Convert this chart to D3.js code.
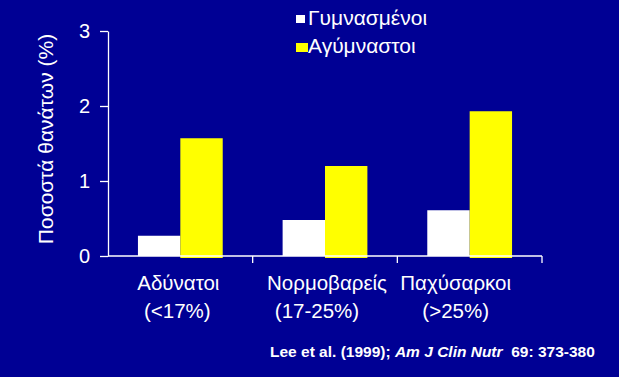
<!DOCTYPE html>
<html>
<head>
<meta charset="utf-8">
<script src="https://cdn.jsdelivr.net/npm/d3@7"></script>
<style>
  html, body { margin: 0; padding: 0; background: #000094; }
  svg { display: block; }
  text { font-family: "Liberation Sans", Arial, sans-serif; fill: #ffffff; }
</style>
</head>
<body>
<svg id="chart" width="619" height="377"></svg>
<script>
// ---- data ----
const categories = ["Αδύνατοι", "Νορμοβαρείς", "Παχύσαρκοι"];
const categorySub = ["(<17%)", "(17-25%)", "(>25%)"];
const seriesNames = ["Γυμνασμένοι", "Αγύμναστοι"];
const trained = [0.27, 0.48, 0.61];
const untrained = [1.57, 1.20, 1.93];
const yTicks = [0, 1, 2, 3];
const yTitle = "Ποσοστά θανάτων (%)";
const citation = ["Lee et al. (1999); ", "Am J Clin Nutr", "  69: 373-380"];

// ---- layout ----
const W = 619, H = 377;
const colors = ["#ffffff", "#ffff00"];
const svg = d3.select("#chart");
svg.append("rect").attr("width", W).attr("height", H).attr("fill", "#000094");

const x0 = d3.scaleBand().domain(categories).range([108, 542])
  .paddingInner(0.414).paddingOuter(0.207);
const x1 = d3.scaleBand().domain(seriesNames).range([0, x0.bandwidth()]);
const y = d3.scaleLinear().domain([0, 3]).range([256, 31]);

const rows = categories.map((c, i) => ({ cat: c, vals: [trained[i], untrained[i]] }));

// bars
const g = svg.append("g");
rows.forEach(r => {
  r.vals.forEach((v, s) => {
    g.append("rect")
      .attr("x", x0(r.cat) + x1(seriesNames[s]))
      .attr("y", y(v))
      .attr("width", x1.bandwidth())
      .attr("height", y(0) - y(v) + (s === 1 ? 2 : 0))
      .attr("fill", colors[s]);
  });
});

// y axis
const yAxis = svg.append("g").attr("transform", "translate(108,0)")
  .call(d3.axisLeft(y).tickValues(yTicks).tickFormat(d3.format("d")).tickSize(8).tickSizeOuter(0).tickPadding(10));
yAxis.select(".domain").attr("stroke", "#fff").attr("stroke-width", 1.3);
yAxis.selectAll(".tick line").attr("stroke", "#fff").attr("stroke-width", 1.3);
yAxis.selectAll(".tick text").attr("fill", "#fff").attr("font-size", 20)
  .style("font-family", "'Liberation Sans', Arial, sans-serif");

// x axis line and boundary ticks
const xr = x0.range();
svg.append("line").attr("x1", xr[0]).attr("x2", xr[1]).attr("y1", y(0)).attr("y2", y(0))
  .attr("stroke", "#fff").attr("stroke-width", 1.3);
categories.forEach((c, i) => {
  const bx = xr[0] + (i + 1) * x0.step();
  svg.append("line").attr("x1", bx).attr("x2", bx).attr("y1", y(0)).attr("y2", y(0) + 7)
    .attr("stroke", "#fff").attr("stroke-width", 1.3);
});

// category labels
const off1 = [-2, 2, -14];
const off2 = [-3, -8, -14];
categories.forEach((c, i) => {
  const cx = x0(c) + x0.bandwidth() / 2;
  svg.append("text").attr("x", cx + off1[i]).attr("y", 290).attr("text-anchor", "middle")
    .attr("font-size", 20.5).text(c);
  svg.append("text").attr("x", cx + off2[i]).attr("y", 318).attr("text-anchor", "middle")
    .attr("font-size", 20.5).text(categorySub[i]);
});

// y title
svg.append("text").attr("transform", "translate(53,139) rotate(-90)")
  .attr("text-anchor", "middle").attr("font-size", 21).text(yTitle);

// legend
const leg = svg.append("g");
seriesNames.forEach((s, i) => {
  const ly = i === 0 ? 15 : 43;
  leg.append("rect").attr("x", 296).attr("y", ly)
    .attr("width", i === 0 ? 9 : 12).attr("height", i === 0 ? 8 : 9).attr("fill", colors[i]);
  leg.append("text").attr("x", 308).attr("y", ly + 10).attr("font-size", 21).text(s);
});

// citation
const cit = svg.append("text").attr("x", 270).attr("y", 357).attr("font-size", 15.5).attr("font-weight", "bold");
cit.append("tspan").text(citation[0]);
cit.append("tspan").attr("font-style", "italic").text(citation[1]);
cit.append("tspan").style("white-space", "pre").text(citation[2]);
</script>
</body>
</html>
